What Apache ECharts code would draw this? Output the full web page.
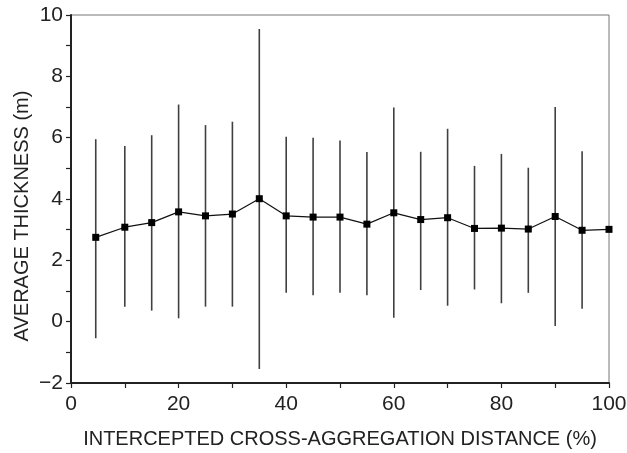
<!DOCTYPE html>
<html>
<head>
<meta charset="utf-8">
<script src="https://cdn.jsdelivr.net/npm/echarts@6/dist/echarts.min.js"></script>
<style>
html,body{margin:0;padding:0;background:#fff;}
#chart{width:627px;height:453px;}
</style>
</head>
<body>
<div id="chart"></div>
<script>
var distances = [4.6, 10, 15, 20, 25, 30, 35, 40, 45, 50, 55, 60, 65, 70, 75, 80, 85, 90, 95, 100];
var meanThickness = [2.75, 3.08, 3.23, 3.58, 3.45, 3.51, 4.01, 3.45, 3.41, 3.41, 3.18, 3.55, 3.33, 3.39, 3.04, 3.05, 3.02, 3.43, 2.98, 3.01];
var barHigh = [5.95, 5.73, 6.08, 7.08, 6.41, 6.52, 9.54, 6.03, 6.0, 5.91, 5.53, 6.98, 5.54, 6.29, 5.08, 5.47, 5.02, 7.0, 5.56, null];
var barLow = [-0.54, 0.49, 0.36, 0.11, 0.49, 0.49, -1.54, 0.94, 0.86, 0.94, 0.86, 0.13, 1.03, 0.52, 1.05, 0.60, 0.94, -0.14, 0.42, null];

var chart = echarts.init(document.getElementById('chart'), null, {renderer: 'canvas'});
var font = 'Liberation Sans, Arial, Helvetica, sans-serif';

var meanData = distances.map(function (d, i) { return [d, meanThickness[i]]; });
var barData = [];
distances.forEach(function (d, i) {
  if (barHigh[i] != null && barLow[i] != null) barData.push([d, barLow[i], barHigh[i]]);
});

var option = {
  backgroundColor: '#fff',
  animation: false,
  grid: {left: 71, right: 18, top: 15, bottom: 70, containLabel: false, outerBoundsMode: 'none',
    show: true, borderColor: '#777', borderWidth: 1, backgroundColor: 'transparent'},
  xAxis: {
    type: 'value', min: 0, max: 100, interval: 10,
    name: 'INTERCEPTED CROSS-AGGREGATION DISTANCE (%)',
    nameLocation: 'middle', nameGap: 46,
    nameTextStyle: {fontFamily: font, fontSize: 20, color: '#222'},
    axisLine: {show: true, onZero: false, lineStyle: {color: '#222', width: 2}},
    axisTick: {show: true, length: 5, inside: false, lineStyle: {color: '#222', width: 1.2}},
    axisLabel: {fontFamily: font, fontSize: 21, color: '#222', margin: 11,
      formatter: function (v) { return v % 20 === 0 ? String(v) : ''; }},
    splitLine: {show: false}
  },
  yAxis: {
    type: 'value', min: -2, max: 10, interval: 1,
    axisLine: {show: true, onZero: false, lineStyle: {color: '#222', width: 2}},
    axisTick: {show: true, length: 5, inside: false, lineStyle: {color: '#222', width: 1.2}},
    axisLabel: {fontFamily: font, fontSize: 21, color: '#222', margin: 8,
      formatter: function (v) { return ((v % 2) + 2) % 2 === 0 ? (v < 0 ? '\u2212' + Math.abs(v) : String(v)) : ''; }},
    splitLine: {show: false}
  },
  graphic: [{
    type: 'text',
    x: 22, y: 216,
    rotation: Math.PI / 2,
    style: {text: 'AVERAGE THICKNESS (m)', font: '20px ' + font, fill: '#222', textAlign: 'center', textVerticalAlign: 'middle'}
  }],
  series: [
    {
      type: 'custom',
      data: barData,
      z: 2,
      renderItem: function (params, api) {
        var x = api.value(0);
        var p1 = api.coord([x, api.value(1)]);
        var p2 = api.coord([x, api.value(2)]);
        return {type: 'line', shape: {x1: p1[0], y1: p1[1], x2: p2[0], y2: p2[1]},
          style: {stroke: '#404040', lineWidth: 1.6}};
      },
      encode: {x: 0, y: [1, 2]}
    },
    {
      type: 'line',
      data: meanData,
      z: 3,
      symbol: 'rect', symbolSize: 7,
      lineStyle: {color: '#111', width: 1.2},
      itemStyle: {color: '#000'}
    }
  ]
};
chart.setOption(option);
</script>
</body>
</html>
